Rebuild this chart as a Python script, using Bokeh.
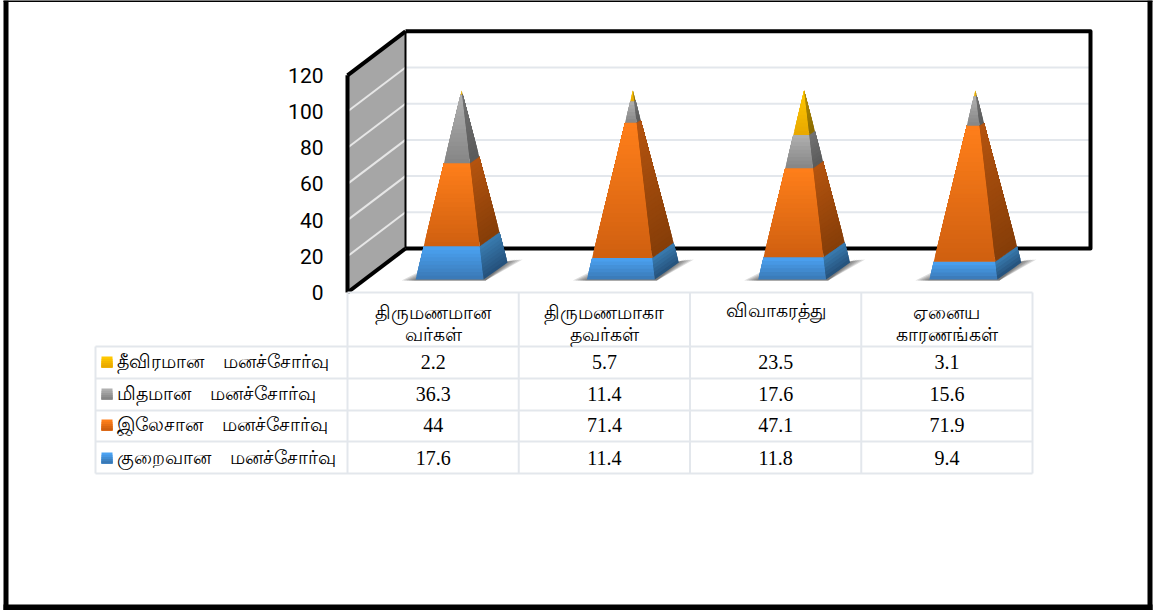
from bokeh.plotting import figure
from bokeh.models import Range1d, LinearAxis, FixedTicker
from bokeh.core.properties import value
from bokeh.embed import file_html
from bokeh.resources import INLINE

categories = ["திருமணமான\nவர்கள்", "திருமணமாகா\nதவர்கள்", "விவாகரத்து", "ஏனைய\nகாரணங்கள்"]
minimal = [17.6, 11.4, 11.8, 9.4]
mild = [44, 71.4, 47.1, 71.9]
moderate = [36.3, 11.4, 17.6, 15.6]
severe = [2.2, 5.7, 23.5, 3.1]
y_ticks = [0, 20, 40, 60, 80, 100, 120]
GAP = "\u2003"
legend_labels = ["தீவிரமான" + GAP + "மனச்சோர்வு", "மிதமான" + GAP + "மனச்சோர்வு", "இலேசான" + GAP + "மனச்சோர்வு", "குறைவான" + GAP + "மனச்சோர்வு"]

W, H = 1156, 610
CAT_W = 171.25
X0, Y0, YS = 347.0, 292.0, 1.81
def xu(px): return (px - X0) / CAT_W
def yu(px): return (Y0 - px) / YS

p = figure(width=W, height=H, x_range=Range1d(xu(0), xu(W)), y_range=Range1d(yu(H), yu(0)),
           x_axis_type=None, y_axis_type=None, toolbar_location=None, output_backend="svg",
           min_border=0, outline_line_color=None, background_fill_color="white",
           margin=(0, 0, 0, 0))
p.grid.visible = False

def hexrgb(c): return tuple(int(c[i:i+2], 16) for i in (1, 3, 5))
def mix(a, b, t):
    A, B = hexrgb(a), hexrgb(b)
    return "#%02x%02x%02x" % tuple(round(A[i] + (B[i] - A[i]) * t) for i in range(3))

# left wall
DX, DY = 58 / CAT_W, 44 / YS
p.patch([0, DX, DX, 0], [0, DY, 120 + DY, 120], fill_color="#a6a6a6", line_color=None)

# grid lines
for t in y_ticks[1:-1]:
    p.line([DX, xu(1090)], [t + DY, t + DY], line_color="#e3e7ec", line_width=2)
    p.line([0, DX], [t, t + DY], line_color="#e6e6e6", line_width=2)

# chart box
BK = "#000000"
p.line([DX, DX], [DY, 120 + DY], line_color=BK, line_width=2)
p.line([DX, xu(1090), xu(1090), DX], [120 + DY, 120 + DY, DY, DY], line_color=BK, line_width=4, line_join="round")
p.line([0, DX], [120, 120 + DY], line_color=BK, line_width=4)
p.line([0, DX], [0, DY], line_color=BK, line_width=4)
p.line([0, 0], [0, 120], line_color=BK, line_width=4)

# y axis
ax = LinearAxis(ticker=FixedTicker(ticks=y_ticks), fixed_location=0)
ax.axis_line_color = None
ax.major_tick_line_color = None
ax.minor_tick_line_color = None
ax.major_tick_in = 0
ax.major_tick_out = 0
ax.major_label_standoff = 24
ax.major_label_text_font = "Roboto"
ax.major_label_text_font_size = "21px"
ax.major_label_text_color = "#000000"
p.add_layout(ax, "left")

# pyramids
front_shift = -12 / CAT_W
half_w = 34 / CAT_W
back_dx, back_dy = 46 / CAT_W, 17 / YS
base_y = 13 / YS
peak = 189 / YS
apex_off = 28.5 / CAT_W
stops = [("#4ba3f3", "#3a78b5", "#3a7cb0", "#24507a"),
         ("#ff7f1a", "#cf5f10", "#b5540f", "#853d08"),
         ("#b0b0b0", "#858585", "#737373", "#5a5a5a"),
         ("#ffc800", "#e8a800", "#b89000", "#8a6a00")]

for i in range(len(categories)):
    ax_x = i + 0.5 + apex_off
    fl = (ax_x + front_shift - half_w, base_y)
    fr = (ax_x + front_shift + half_w, base_y)
    br = (ax_x + back_dx, base_y + back_dy)
    apex = (ax_x, base_y + peak)
    def lerp(a, t): return (a[0] + (apex[0] - a[0]) * t, a[1] + (apex[1] - a[1]) * t)

    # floor shadow
    for k in range(6):
        s = 1 - k / 6
        xs = [fl[0] - s * 14 / CAT_W, fl[0] + 6 / CAT_W, br[0], br[0] + s * 15 / CAT_W, fr[0] + 2 / CAT_W]
        ys = [base_y - 1 / YS, base_y + s * 9 / YS, br[1] + 1 / YS, br[1] + 3 / YS, base_y - 1 / YS]
        p.patch(xs, ys, fill_color="#404040", fill_alpha=0.18, line_color=None)

    series = [minimal[i], mild[i], moderate[i], severe[i]]
    total = sum(series)
    cum = 0.0
    for j, v in enumerate(series):
        t0, t1 = cum / total, (cum + v) / total
        cum += v
        n = max(2, int((t1 - t0) * 40) + 2)
        c_top, c_bot, s_top, s_bot = stops[j]
        for b in range(n):
            # each band reaches up to the segment top; the next band paints over it
            a0 = t0 + (t1 - t0) * b / n
            g = 1 - (b + 0.5) / n
            P0, P1, P2, P3 = lerp(fl, a0), lerp(fr, a0), lerp(fr, t1), lerp(fl, t1)
            p.patch([P0[0], P1[0], P2[0], P3[0]], [P0[1], P1[1], P2[1], P3[1]],
                    fill_color=mix(c_top, c_bot, g), line_color=None)
            Q0, Q1, Q2, Q3 = lerp(fr, a0), lerp(br, a0), lerp(br, t1), lerp(fr, t1)
            p.patch([Q0[0], Q1[0], Q2[0], Q3[0]], [Q0[1], Q1[1], Q2[1], Q3[1]],
                    fill_color=mix(s_top, s_bot, g), line_color=None)

# data table
TB = "#e3e7ec"
rows_px = [346, 378, 410, 441, 473]
cols = [0, 1, 2, 3, 4]
p.line([0, 4], [yu(292), yu(292)], line_color=TB, line_width=2)
for r in rows_px:
    p.line([xu(95), 4], [yu(r), yu(r)], line_color=TB, line_width=2)
p.line([xu(95), xu(95)], [yu(346), yu(473)], line_color=TB, line_width=2)
for c in cols:
    p.line([c, c], [yu(292), yu(473)], line_color=TB, line_width=2)

SERIF = value("Liberation Serif")
for i, label in enumerate(categories):
    parts = label.split("\n")
    for k, part in enumerate(parts):
        p.text([i + 0.5], [yu(312 + 22 * k if len(parts) > 1 else 310)], text=[part], text_font=SERIF,
               text_font_size="19px", text_align="center", text_baseline="middle", text_color="#000000")

table = [severe, moderate, mild, minimal]
centers_px = [361, 393, 424, 457]
swatch = [stops[3], stops[2], stops[1], stops[0]]
for r, row in enumerate(table):
    yc = centers_px[r]
    for i, v in enumerate(row):
        p.text([i + 0.5], [yu(yc)], text=[str(v)], text_font=SERIF, text_font_size="20px",
               text_align="center", text_baseline="middle", text_color="#000000")
    p.text([xu(116)], [yu(yc)], text=[legend_labels[r]], text_font=SERIF, text_font_size="19px",
           text_align="left", text_baseline="middle", text_color="#000000")
    for b in range(5):
        col = mix(swatch[r][0], swatch[r][1], b / 4)
        top = yc - 5 + b * 11 / 5
        p.quad(left=xu(101), right=xu(112), top=yu(top), bottom=yu(yc + 6), fill_color=col, line_color=None)

# outer border
for xs, ys, w in [([5.5, 5.5], [0, H], 5), ([1149.5, 1149.5], [0, H], 5), ([3, 1152], [0.5, 0.5], 2), ([3, 1152], [607, 607], 6)]:
    p.line([xu(x) for x in xs], [yu(y) for y in ys], line_color="#000000", line_width=w)

open("out.html", "w").write(file_html(p, INLINE))
